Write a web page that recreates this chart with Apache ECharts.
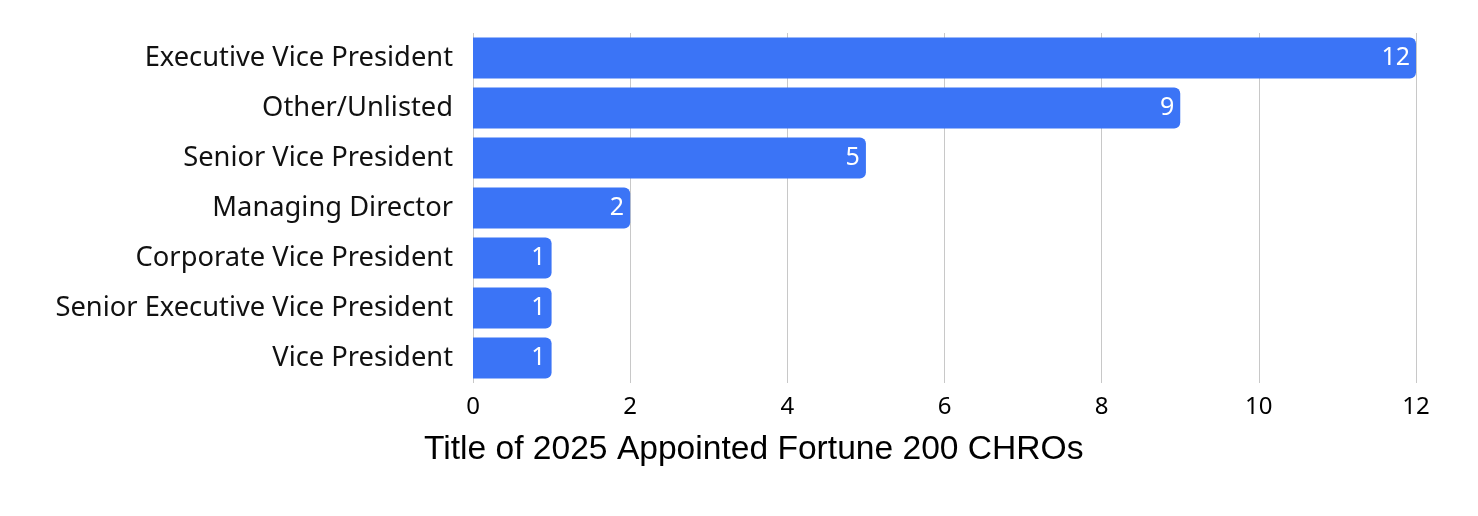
<!DOCTYPE html>
<html>
<head>
<meta charset="utf-8">
<style>
  html, body { margin: 0; padding: 0; background: #fff; }
  #chart { width: 1478px; height: 516px; }
</style>
<script src="https://cdn.jsdelivr.net/npm/echarts@6/dist/echarts.min.js"></script>
</head>
<body>
<div id="chart"></div>
<script>
// Data (top to bottom as shown)
const categories = [
  "Executive Vice President",
  "Other/Unlisted",
  "Senior Vice President",
  "Managing Director",
  "Corporate Vice President",
  "Senior Executive Vice President",
  "Vice President",
];
const counts = [12, 9, 5, 2, 1, 1, 1];
const axisTitle = "Title of 2025 Appointed Fortune 200 CHROs";

const chart = echarts.init(document.getElementById("chart"));

const option = {
  animation: false,
  title: {
    text: axisTitle,
    left: 419,
    top: 428,
    textStyle: {
      fontFamily: "Liberation Sans",
      fontSize: 33.6,
      fontWeight: "normal",
      color: "#000",
    },
  },
  grid: {
    left: 473,
    right: 62,
    top: 33,
    height: 350,
  },
  xAxis: {
    type: "value",
    min: 0,
    max: 12,
    interval: 2,
    axisLine: { show: false },
    axisTick: { show: false },
    axisLabel: {
      margin: 12,
      fontFamily: "Noto Sans",
      fontSize: 24,
      color: "#000",
    },
    splitLine: { lineStyle: { color: "#c8c8c8", width: 1 } },
  },
  yAxis: {
    type: "category",
    inverse: true,
    data: categories,
    axisLine: { show: false },
    axisTick: { show: false },
    axisLabel: {
      margin: 20,
      fontFamily: "Noto Sans",
      fontSize: 27.3,
      color: "#111",
    },
  },
  series: [
    {
      type: "bar",
      data: counts,
      barCategoryGap: "18%",
      itemStyle: {
        color: "#3b74f6",
        borderRadius: [0, 6, 6, 0],
      },
      label: {
        show: true,
        position: "insideRight",
        distance: 6,
        color: "#fff",
        fontFamily: "Noto Sans",
        fontSize: 25,
      },
    },
  ],
};

chart.setOption(option);
</script>
</body>
</html>
